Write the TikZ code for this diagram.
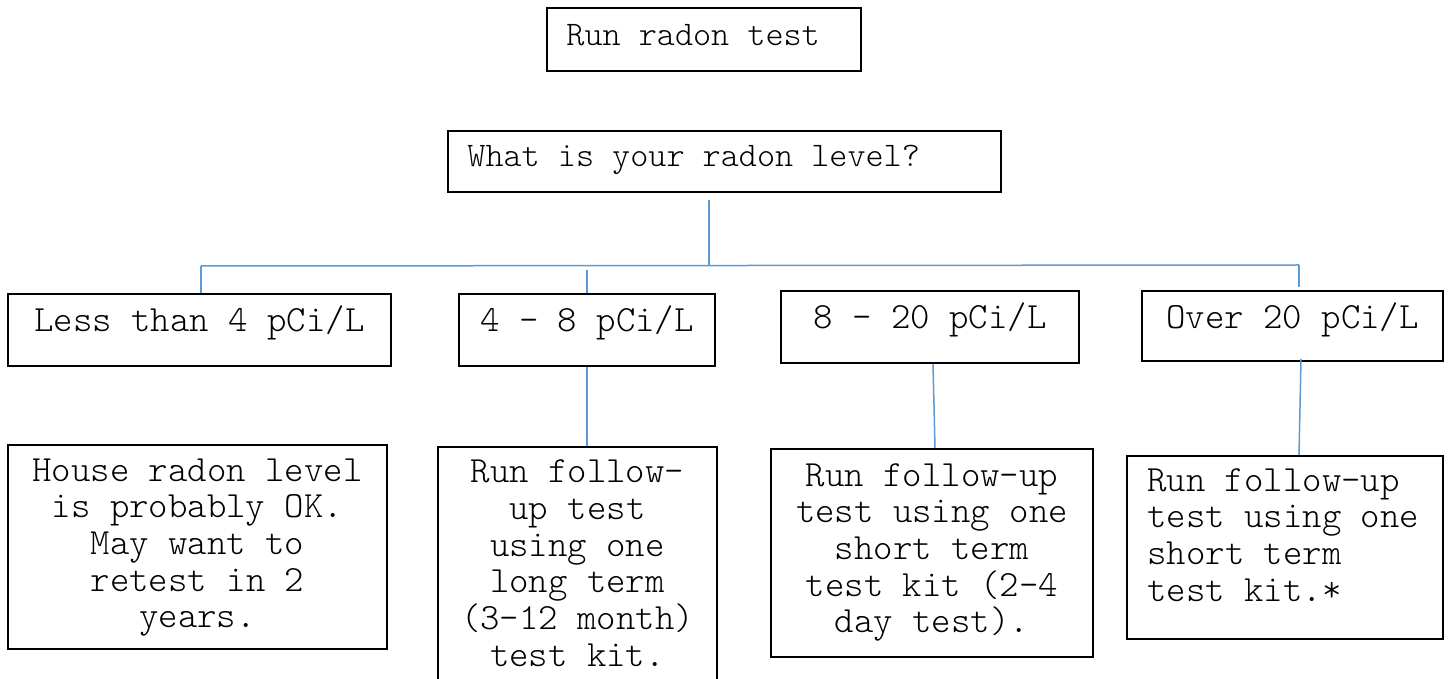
\documentclass[tikz,border=0pt]{standalone}
\usetikzlibrary{calc}
\definecolor{connblue}{RGB}{91,155,213}
\newcommand{\courlight}{\fontfamily{lmtt}\fontseries{l}\fontshape{n}}
\begin{document}
\begin{tikzpicture}[x=0.5pt,y=-0.5pt,
  box/.style={draw=black,line width=1pt,inner sep=0pt},
  upper/.style={font=\courlight\fontsize{17.24}{17.1}\selectfont,inner sep=0pt,align=left},
  lower/.style={font=\courlight\fontsize{18.48}{18.35}\selectfont,inner sep=0pt,align=center},
  lowerleft/.style={font=\courlight\fontsize{18.48}{18.35}\selectfont,inner sep=0pt,align=left},
  conn/.style={draw=connblue,line width=0.75pt}]
\useasboundingbox (0,0) rectangle (1448,679);
\fill[white] (0,0) rectangle (1448,679);

% boxes
\node[box,minimum width=157pt,minimum height=31.5pt] (run) at (704,39.5) {};
\node[box,minimum width=276.5pt,minimum height=30.5pt] (what) at (724.5,161.5) {};
\node[box,minimum width=191.5pt,minimum height=36pt] (lt4) at (199.5,330) {};
\node[box,minimum width=128pt,minimum height=36pt] (r48) at (587,330) {};
\node[box,minimum width=149pt,minimum height=36pt] (r820) at (930,327) {};
\node[box,minimum width=150.5pt,minimum height=35pt] (o20) at (1292.5,326) {};
\node[box,minimum width=189.5pt,minimum height=102pt] (house) at (197.5,547) {};
\node[box,minimum width=139.5pt,minimum height=117pt] (f48) at (577.5,564) {};
\node[box,minimum width=161pt,minimum height=104pt] (f820) at (932,553) {};
\node[box,minimum width=158pt,minimum height=91.5pt] (fo20) at (1285,547.5) {};

% texts
\node[upper,anchor=north west] (trun) at ($(run.north west)+(20,13.8)$) {\strut Run radon test};
\node[upper,anchor=north west] (twhat) at ($(what.north west)+(20,12.4)$) {\strut What is your radon level?};
\node[lower,anchor=north] (tlt4) at ($(lt4.north)+(0,12.3)$) {\strut Less than 4 pCi/L};
\node[lower,anchor=north] (tr48) at ($(r48.north)+(0,12.3)$) {\strut 4 \textendash\ 8 pCi/L};
\node[lower,anchor=north] (tr820) at ($(r820.north)+(0,12.3)$) {\strut 8 \textendash\ 20 pCi/L};
\node[lower,anchor=north] (to20) at ($(o20.north)+(0,12.3)$) {\strut Over 20 pCi/L};
\node[lower,anchor=north] (thouse) at ($(house.north)+(0,11)$) {\strut House radon level\\is probably OK.\\May want to\\retest in 2\\years.};
\node[lower,anchor=north] (tf48) at ($(f48.north)+(0,10.6)$) {\strut Run follow-\\up test\\using one\\long term\\(3-12 month)\\test kit.};
\node[lower,anchor=north] (tf820) at ($(f820.north)+(0,12)$) {\strut Run follow-up\\test using one\\short term\\test kit (2-4\\day test).};
\node[lowerleft,anchor=north west] (tfo20) at ($(fo20.north west)+(21,10)$) {\strut Run follow-up\\test using one\\short term\\test kit.*};

% connectors
\draw[conn] ($(run.south)+(2,0)$) -- ($(run.south)+(2,0)$ |- what.north);
\coordinate (whatstem) at ($(what.south)+(-15.5,7)$);
\coordinate (busL) at (201,266);
\coordinate (busR) at (1299,265);
\draw[conn] (whatstem) -- (whatstem |- busL);
\draw[conn] (busL) -- (busR);
\draw[conn] (busL) -- (busL |- lt4.north);
\draw[conn] ($(r48.north)+(0,-23)$) -- (r48.north);
\draw[conn] ($(r820.north)+(4,0)$ |- busL) -- ($(r820.north)+(4,0)$);
\draw[conn] (busR) -- ($(o20.north)+(6.5,-3)$);
\draw[conn] ($(lt4.south)+(1.5,0)$) -- ($(lt4.south)+(1.5,0)$ |- house.north);
\draw[conn] (r48.south) -- (r48.south |- f48.north);
\draw[conn] ($(r820.south)+(3,0)$) -- ($(f820.north)+(3,0)$);
\draw[conn] ($(o20.south)+(8.5,-3)$) -- ($(fo20.north)+(14,0)$);
\end{tikzpicture}
\end{document}
